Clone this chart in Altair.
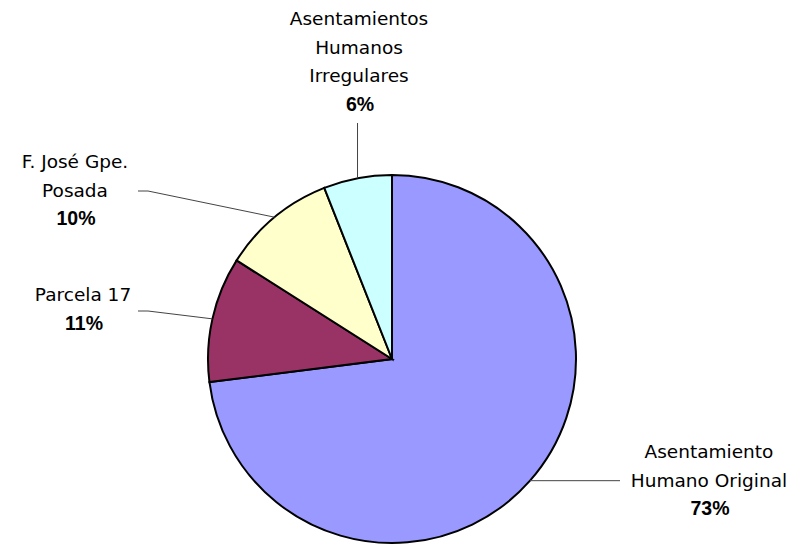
import math
import altair as alt
import pandas as pd

# ---- data ----
categories = [
    "Asentamiento Humano Original",
    "Parcela 17",
    "F. José Gpe. Posada",
    "Asentamientos Humanos Irregulares",
]
values = [73, 11, 10, 6]
colors = ["#9999FF", "#993366", "#FFFFCC", "#CCFFFF"]
name_lines = [
    ["Asentamiento", "Humano Original"],
    ["Parcela 17"],
    ["F. José Gpe.", "Posada"],
    ["Asentamientos", "Humanos", "Irregulares"],
]

# ---- layout ----
CX, CY, R = 384, 351, 184
label_x = [701, 75, 67, 351]
label_y0 = [444, 287, 154, 11]
LINE_H = 28.5
leader_tail = [
    [(612, None)],
    [(140, 303), (130, 303)],
    [(140, 183), (130, 183)],
    [(None, 115)],
]

total = sum(values)
pie_df = pd.DataFrame({"cat": categories, "value": values, "idx": list(range(len(values)))})

text_rows, pct_rows, lead_rows = [], [], []
cum = 0
for i, (c, v) in enumerate(zip(categories, values)):
    mid = (cum + v / 2) / total * 2 * math.pi
    cum += v
    sx = CX + R * math.sin(mid)
    sy = CY - R * math.cos(mid)
    pts = [(sx, sy)] + [
        (sx if px is None else px, sy if py is None else py) for px, py in leader_tail[i]
    ]
    for k, (px, py) in enumerate(pts):
        lead_rows.append({"cat": c, "k": k, "x": px, "y": py})
    for j, line in enumerate(name_lines[i]):
        text_rows.append({"text": line, "x": label_x[i], "y": label_y0[i] + j * LINE_H})
    pct_rows.append({"text": f"{v}%", "x": label_x[i] + 1,
                     "y": label_y0[i] + len(name_lines[i]) * LINE_H})

pie = alt.Chart(pie_df).mark_arc(outerRadius=R, stroke="black", strokeWidth=2).encode(
    theta=alt.Theta("value:Q", stack=True),
    color=alt.Color("cat:N", scale=alt.Scale(domain=categories, range=colors), legend=None),
    order=alt.Order("idx:Q"),
    x=alt.value(CX),
    y=alt.value(CY),
)

leaders = alt.Chart(pd.DataFrame(lead_rows)).mark_line(color="#444444", strokeWidth=1).encode(
    x=alt.X("x:Q", scale=None, axis=None),
    y=alt.Y("y:Q", scale=None, axis=None),
    detail="cat:N",
    order="k:Q",
)

names = alt.Chart(pd.DataFrame(text_rows)).mark_text(
    font="DejaVu Sans", fontSize=18.5, color="black", align="center", baseline="middle"
).encode(
    x=alt.X("x:Q", scale=None, axis=None),
    y=alt.Y("y:Q", scale=None, axis=None),
    text="text:N",
)

pcts = alt.Chart(pd.DataFrame(pct_rows)).mark_text(
    font="Liberation Sans", fontSize=19.5, fontWeight="bold", color="black",
    align="center", baseline="middle"
).encode(
    x=alt.X("x:Q", scale=None, axis=None),
    y=alt.Y("y:Q", scale=None, axis=None),
    text="text:N",
)

chart = alt.layer(pie, leaders, names, pcts).properties(
    width=780, height=538, padding=0,
    autosize=alt.AutoSizeParams(type="none"),
    background="white",
).configure_view(stroke=None)

chart.save("out.html", embed_options={"renderer": "svg", "actions": False})
